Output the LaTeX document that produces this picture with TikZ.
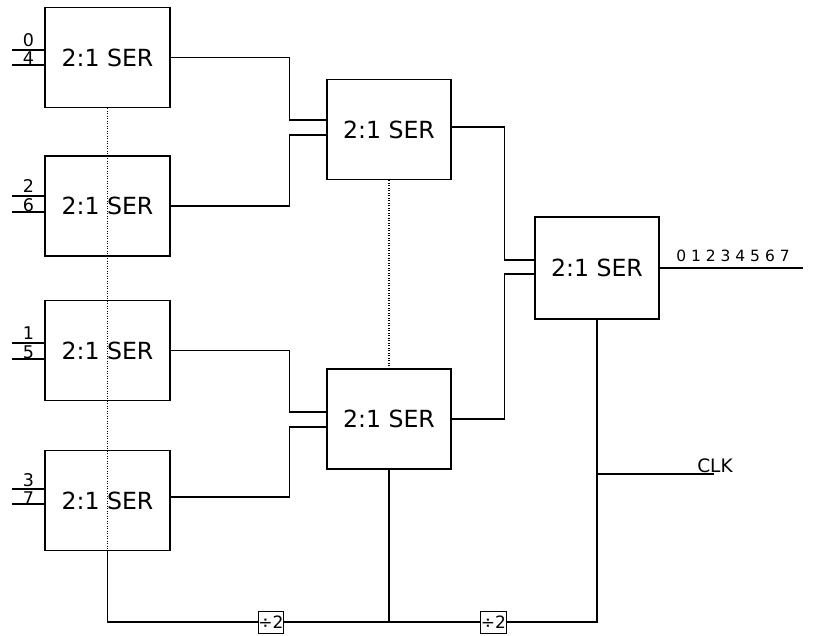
\documentclass[tikz,border=0pt]{standalone}
\usepackage{fontspec}
\setmainfont{DejaVu Sans}
\usetikzlibrary{calc}
\begin{document}
\begin{tikzpicture}[x=1pt,y=-1pt,line width=1.1pt,
  serbox/.style={draw,minimum width=125pt,minimum height=100pt,inner sep=0pt,font=\fontsize{23.6}{28}\selectfont},
  lbl/.style={font=\fontsize{15.5}{18}\selectfont,inner sep=0pt,anchor=base},
  inlbl/.style={font=\fontsize{17.5}{20}\selectfont,inner sep=0pt,anchor=base},
  divbox/.style={draw,line width=1pt,inner sep=0.3pt,minimum height=22pt,font=\fontsize{17}{20}\selectfont},
  dotline/.style={line width=1.1pt,dash pattern=on 1.2pt off 1.3pt}]
\useasboundingbox (0,0) rectangle (820,636);
% first column
\node[serbox] (L1) at (107.5,57.5) {2:1 SER};
\node[serbox] (L2) at (107.5,206) {2:1 SER};
\node[serbox] (L3) at (107.5,350.5) {2:1 SER};
\node[serbox] (L4) at (107.5,500.5) {2:1 SER};
% second column
\node[serbox,minimum width=124pt] (M1) at (389,129.5) {2:1 SER};
\node[serbox,minimum width=124pt] (M2) at (389,419) {2:1 SER};
% third
\node[serbox,minimum width=124pt,minimum height=102pt] (R) at (597,268) {2:1 SER};
% inputs
\draw ([yshift=7.5pt]L1.west) -- ++(-32,0) node[inlbl,midway,yshift=3pt] {0};
\draw ([yshift=-7.5pt]L1.west) -- ++(-32,0) node[inlbl,midway] {4};
\draw ([yshift=10pt]L2.west) -- ++(-32,0) node[inlbl,midway,yshift=3pt] {2};
\draw ([yshift=-6pt]L2.west) -- ++(-32,0) node[inlbl,midway] {6};
\draw ([yshift=7.5pt]L3.west) -- ++(-32,0) node[inlbl,midway,yshift=3pt] {1};
\draw ([yshift=-8.5pt]L3.west) -- ++(-32,0) node[inlbl,midway] {5};
\draw ([yshift=11.5pt]L4.west) -- ++(-32,0) node[inlbl,midway,yshift=3pt] {3};
\draw ([yshift=-3.5pt]L4.west) -- ++(-32,0) node[inlbl,midway] {7};
% first to second column
\draw (L1.east) -- ++(119,0) |- ($(M1.west)+(0,-9.5)$);
\draw (L2.east) -- ++(119,0) |- ($(M1.west)+(0,5.5)$);
\draw (L3.east) -- ++(119,0) |- ($(M2.west)+(0,-7)$);
\draw ([yshift=3.5pt]L4.east) -- ++(119,0) |- ($(M2.west)+(0,8)$);
% second to third
\draw ([yshift=2.5pt]M1.east) -- ++(53,0) |- ($(R.west)+(0,-8)$);
\draw (M2.east) -- ++(53,0) |- ($(R.west)+(0,6)$);
% output
\draw (R.east) -- ++(143,0) coordinate (outend);
\node[lbl] (outlbl) at (733,262) {0 1 2 3 4 5 6 7};
% dotted clock lines
\draw[dotline] (L1.south) -- (L4.south);
\draw[dotline] (M1.south) -- (M2.north);
% clock distribution
\node[divbox] (d1) at (271,622) {÷2};
\node[divbox] (d2) at (493.5,622) {÷2};
\coordinate (bl) at (L4.south |- d1.west);
\coordinate (br) at (R.south |- d1.west);
\draw (L4.south) -- (bl) -- (d1.west);
\draw (d1.east) -- (d2.west);
\draw (d2.east) -- (br) -- (R.south);
\draw (M2.south) -- (M2.south |- d1.west);
\coordinate (clkend) at (714,474);
\draw (clkend) -- (clkend -| R.south);
\node[lbl,font=\fontsize{18.5}{20}\selectfont] (clk) at (715,472) {CLK};
\end{tikzpicture}
\end{document}
